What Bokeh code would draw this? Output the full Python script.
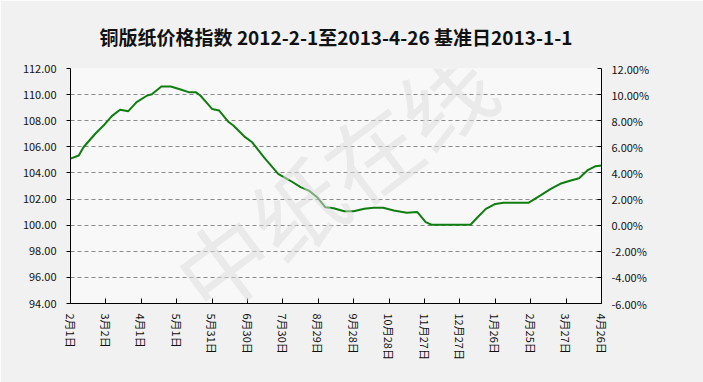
import pandas as pd
from bokeh.plotting import figure
from bokeh.models import LinearAxis, Range1d, FixedTicker, Title, Label
from bokeh.embed import file_html
from bokeh.resources import INLINE

# ---- data ----
start_date = "2012-02-01"
dates = [
    "2012-02-01", "2012-02-08", "2012-02-12", "2012-02-22", "2012-02-29",
    "2012-03-07", "2012-03-14", "2012-03-21", "2012-03-28", "2012-04-06",
    "2012-04-10", "2012-04-18", "2012-04-26", "2012-05-05", "2012-05-11",
    "2012-05-17", "2012-05-21", "2012-05-28", "2012-05-31", "2012-06-06",
    "2012-06-14", "2012-06-18", "2012-06-28", "2012-07-04", "2012-07-14",
    "2012-07-26", "2012-08-05", "2012-08-14", "2012-08-21", "2012-08-28",
    "2012-09-04", "2012-09-11", "2012-09-20", "2012-09-28", "2012-10-07",
    "2012-10-15", "2012-10-23", "2012-11-01", "2012-11-12", "2012-11-21",
    "2012-11-28", "2012-12-03", "2013-01-05", "2013-01-11", "2013-01-18",
    "2013-01-26", "2013-02-02", "2013-02-23", "2013-03-05", "2013-03-14",
    "2013-03-22", "2013-03-31", "2013-04-07", "2013-04-14", "2013-04-21",
    "2013-04-26",
]
index_values = [
    105.10, 105.34, 105.97, 107.00, 107.63,
    108.35, 108.84, 108.73, 109.42, 109.93,
    110.03, 110.62, 110.62, 110.37, 110.19,
    110.19, 109.93, 109.22, 108.90, 108.78,
    107.90, 107.63, 106.74, 106.35, 105.20,
    103.93, 103.42, 102.91, 102.65, 102.14,
    101.37, 101.30, 101.07, 101.07, 101.25,
    101.33, 101.33, 101.12, 100.95, 101.00,
    100.23, 100.03, 100.03, 100.61, 101.25,
    101.63, 101.71, 101.71, 102.27, 102.78,
    103.17, 103.42, 103.60, 104.19, 104.52,
    104.57,
]
tick_dates = [
    "2012-02-01", "2012-03-02", "2012-04-01", "2012-05-01", "2012-05-31",
    "2012-06-30", "2012-07-30", "2012-08-29", "2012-09-28", "2012-10-28",
    "2012-11-27", "2012-12-27", "2013-01-26", "2013-02-25", "2013-03-27",
    "2013-04-26",
]
tick_labels = [
    "2月1日", "3月2日", "4月1日", "5月1日", "5月31日", "6月30日", "7月30日",
    "8月29日", "9月28日", "10月28日", "11月27日", "12月27日", "1月26日",
    "2月25日", "3月27日", "4月26日",
]
left_ticks = [94, 96, 98, 100, 102, 104, 106, 108, 110, 112]
right_ticks = [-6, -4, -2, 0, 2, 4, 6, 8, 10, 12]
title_text = "铜版纸价格指数 2012-2-1至2013-4-26 基准日2013-1-1"
watermark_text = "中纸在线"

t0 = pd.Timestamp(start_date)
xs = [int((pd.Timestamp(d) - t0).days) for d in dates]
tick_x = [int((pd.Timestamp(d) - t0).days) for d in tick_dates]

FONT = "Noto Sans CJK SC"

p = figure(width=703, height=382, output_backend="svg", toolbar_location=None,
           x_range=Range1d(tick_x[0], tick_x[-1]),
           y_range=Range1d(left_ticks[0], left_ticks[-1]),
           min_border_left=70, min_border_right=102, min_border_top=68,
           min_border_bottom=79)
p.border_fill_color = "#f1f1f1"
p.background_fill_color = "#f8f8f8"
p.outline_line_color = None

p.extra_y_ranges = {"pct": Range1d(right_ticks[0], right_ticks[-1])}

# watermark
wm = Label(x=222, y=103.6, text=watermark_text, angle=0.64,
           text_align="center", text_baseline="middle",
           text_font=FONT, text_font_size="92px", text_color="#dcdcdc",
           text_alpha=0.5)
p.add_layout(wm)

p.line(xs, index_values, line_color="#107d10", line_width=2)

# axes
xa = p.xaxis[0]
xa.ticker = FixedTicker(ticks=tick_x)
xa.major_label_overrides = {x: l for x, l in zip(tick_x, tick_labels)}
xa.major_label_orientation = "vertical"
xa.major_tick_in = 5
xa.major_tick_out = 0
xa.minor_tick_line_color = None
xa.axis_line_color = "black"
xa.major_label_text_font = FONT
xa.major_label_text_font_size = "11px"
xa.major_label_text_color = "#111111"
xa.major_label_standoff = 10

ya = p.yaxis[0]
ya.ticker = FixedTicker(ticks=left_ticks)
ya.major_label_overrides = {v: f"{v:.2f}" for v in left_ticks}
ya.major_tick_in = 0
ya.major_tick_out = 4
ya.minor_tick_line_color = None
ya.axis_line_color = "black"
ya.major_label_text_font = FONT
ya.major_label_text_font_size = "11px"
ya.major_label_text_color = "#111111"
ya.major_label_standoff = 10

ra = LinearAxis(y_range_name="pct", ticker=FixedTicker(ticks=right_ticks))
ra.major_label_overrides = {v: f"{v:.2f}%" for v in right_ticks}
ra.major_tick_in = 4
ra.major_tick_out = 0
ra.minor_tick_line_color = None
ra.axis_line_color = "black"
ra.major_label_text_font = FONT
ra.major_label_text_font_size = "11px"
ra.major_label_text_color = "#111111"
ra.major_label_standoff = 10
p.add_layout(ra, "right")

p.xgrid.grid_line_color = None
p.ygrid.ticker = FixedTicker(ticks=left_ticks)
p.ygrid.grid_line_color = "#8a8a8a"
p.ygrid.grid_line_dash = "4 3"
p.ygrid.grid_line_width = 1

p.title = Title(text=title_text, align="center", text_font=FONT,
                text_font_size="19px", text_font_style="bold",
                text_color="#111111", standoff=38)

open("out.html", "w").write(file_html(p, INLINE))
